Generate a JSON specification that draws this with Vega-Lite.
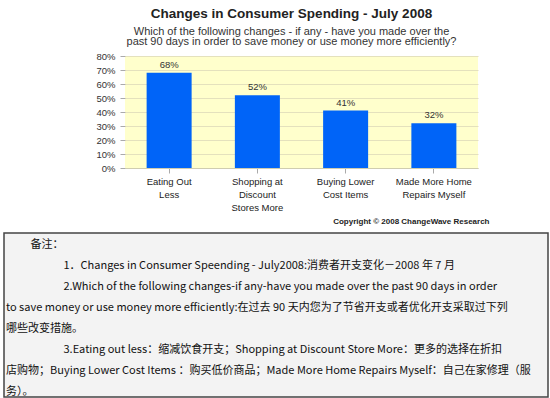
{
  "$schema": "https://vega.github.io/schema/vega-lite/v6.json",
  "background": "white",
  "padding": {"left": 3, "top": 7, "right": 0, "bottom": 0},
  "spacing": 7,
  "config": {"font": "Liberation Sans"},
  "vconcat": [
    {
      "spacing": 0,
      "hconcat": [
        {
          "width": 91,
          "height": 10,
          "view": {"stroke": null},
          "data": {"values": []},
          "mark": "point"
        },
        {
          "width": 353,
          "height": 112,
          "view": {"fill": "#ffffcc", "stroke": null},
          "title": {
            "text": "Changes in Consumer Spending - July 2008",
            "subtitle": [
              "Which of the following changes - if any - have you made over the",
              "past 90 days in order to save money or use money more efficiently?"
            ],
            "frame": "group",
            "anchor": "middle",
            "dx": -10,
            "font": "Liberation Sans",
            "fontSize": 13.5,
            "fontWeight": "bold",
            "color": "#222222",
            "subtitleFont": "Liberation Sans",
            "subtitleFontSize": 11,
            "subtitleLineHeight": 10.5,
            "subtitleColor": "#333333",
            "subtitlePadding": 5,
            "offset": 4
          },
          "data": {
            "values": [
              {"change": "Eating Out Less", "share": 0.68},
              {"change": "Shopping at Discount Stores More", "share": 0.52},
              {"change": "Buying Lower Cost Items", "share": 0.41},
              {"change": "Made More Home Repairs Myself", "share": 0.32}
            ]
          },
          "encoding": {
            "x": {
              "field": "change",
              "type": "nominal",
              "sort": null,
              "scale": {"paddingInner": 0.49, "paddingOuter": 0.245},
              "axis": {
                "labelAngle": 0,
                "labelFont": "Liberation Sans",
                "labelFontSize": 9.5,
                "labelColor": "#222222",
                "labelLineHeight": 13,
                "labelPadding": 3,
                "labelExpr": "datum.value == 'Eating Out Less' ? ['Eating Out', 'Less'] : datum.value == 'Shopping at Discount Stores More' ? ['Shopping at', 'Discount', 'Stores More'] : datum.value == 'Buying Lower Cost Items' ? ['Buying Lower', 'Cost Items'] : ['Made More Home', 'Repairs Myself']",
                "tickSize": 5,
                "tickColor": "#aaaaaa",
                "domainColor": "#cfcdb0",
                "title": "Copyright © 2008 ChangeWave Research",
                "titleFont": "Liberation Sans",
                "titleFontSize": 8,
                "titleFontWeight": "bold",
                "titleColor": "#222222",
                "titleAnchor": "end",
                "titleAlign": "right",
                "titleBaseline": "alphabetic",
                "titleX": 364,
                "titleY": 55
              }
            },
            "y": {
              "field": "share",
              "type": "quantitative",
              "scale": {"domain": [0, 0.8]},
              "axis": {
                "title": null,
                "format": ".0%",
                "values": [0, 0.1, 0.2, 0.3, 0.4, 0.5, 0.6, 0.7, 0.8],
                "labelFont": "Liberation Sans",
                "labelFontSize": 9.5,
                "labelColor": "#333333",
                "labelPadding": 5,
                "tickSize": 5,
                "tickColor": "#aaaaaa",
                "domain": false,
                "gridColor": "#e4e1bd"
              }
            }
          },
          "layer": [
            {"mark": {"type": "bar", "color": "#0064f8"}},
            {
              "mark": {
                "type": "text",
                "baseline": "alphabetic",
                "dy": -5,
                "font": "Liberation Sans",
                "fontSize": 9.5,
                "color": "#333333"
              },
              "encoding": {"text": {"field": "share", "format": ".0%"}}
            }
          ]
        }
      ]
    },
    {
      "width": 544,
      "height": 164,
      "view": {"fill": "#f3f3f3", "stroke": "#444444", "strokeWidth": 1.5},
      "data": {
        "values": [
          {"line": 0, "text": "\u200b　　  备注："},
          {"line": 1, "text": "\u200b　　　　　   1．Changes in Consumer Speending - July2008:消费者开支变化－2008 年 7 月"},
          {"line": 2, "text": "\u200b　　　　　   2.Which of the following changes-if any-have you made over the past 90 days in order"},
          {"line": 3, "text": "to save money or use money more efficiently:在过去 90 天内您为了节省开支或者优化开支采取过下列"},
          {"line": 4, "text": "哪些改变措施。"},
          {"line": 5, "text": "\u200b　　　　　   3.Eating out less：缩减饮食开支；Shopping at Discount Store More：更多的选择在折扣"},
          {"line": 6, "text": "店购物；Buying Lower Cost Items ：购买低价商品；Made More Home Repairs Myself：自己在家修理（服"},
          {"line": 7, "text": "务）。"}
        ]
      },
      "mark": {
        "type": "text",
        "align": "left",
        "baseline": "middle",
        "dx": 2,
        "font": "Noto Sans CJK SC",
        "fontSize": 11,
        "color": "#111111"
      },
      "encoding": {
        "x": {"datum": 0, "type": "quantitative", "scale": {"domain": [0, 1]}, "axis": null},
        "y": {
          "field": "line",
          "type": "ordinal",
          "scale": {"type": "point", "padding": 0.39, "align": 0.7},
          "axis": null
        },
        "text": {"field": "text"}
      }
    }
  ]
}
